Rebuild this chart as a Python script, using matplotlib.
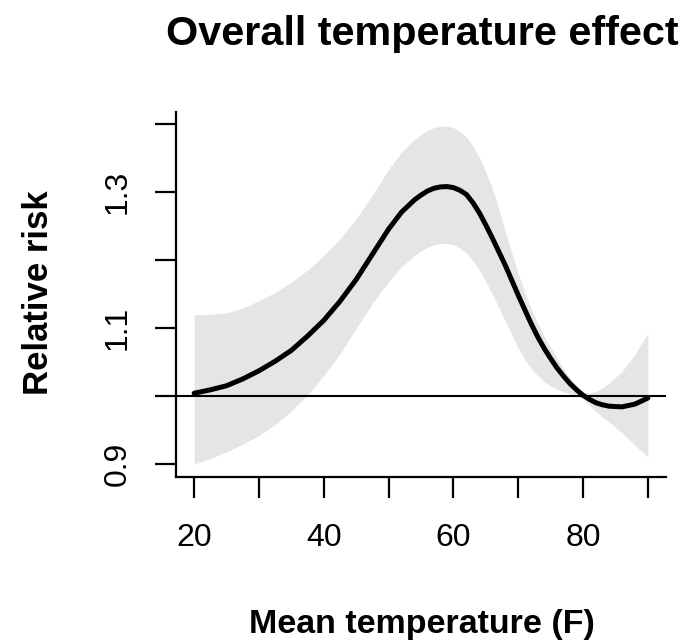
import matplotlib
matplotlib.use("Agg")
import matplotlib.pyplot as plt

plt.rcParams["font.family"] = ["Liberation Sans", "DejaVu Sans"]

# Overall cumulative temperature-mortality association (centred at 80F)
temp = [20, 22.5, 25, 27.5, 30, 32.5, 35, 37.5, 40, 42.5, 45, 47.5, 50,
        52, 54, 55, 56, 57, 58, 59, 60, 61, 62, 63, 64, 65, 66, 67, 68,
        69, 70, 71, 72, 73, 74, 75, 76, 77, 78, 79, 80, 81, 82, 83, 84,
        86, 88, 90]
rr = [1.004, 1.009, 1.015, 1.025, 1.037, 1.051, 1.067, 1.088, 1.111, 1.139,
      1.171, 1.208, 1.245, 1.270, 1.288, 1.295, 1.301, 1.305, 1.307, 1.3075,
      1.306, 1.302, 1.296, 1.284, 1.269, 1.251, 1.232, 1.212, 1.192,
      1.170, 1.148, 1.127, 1.106, 1.087, 1.070, 1.055, 1.041, 1.029, 1.018,
      1.009, 1.001, 0.995, 0.990, 0.987, 0.985, 0.984, 0.988, 0.997]
ci_high = [1.119, 1.120, 1.122, 1.129, 1.140, 1.152, 1.167, 1.185, 1.206,
           1.231, 1.260, 1.295, 1.333, 1.358, 1.377, 1.384, 1.390, 1.394,
           1.396, 1.3965, 1.394, 1.388, 1.380, 1.367, 1.350, 1.329, 1.305,
           1.275, 1.242, 1.210, 1.180, 1.153, 1.128, 1.107, 1.088, 1.071,
           1.055, 1.040, 1.026, 1.015, 1.005, 1.004, 1.007, 1.012, 1.019,
           1.036, 1.061, 1.092]
ci_low = [0.900, 0.908, 0.918, 0.929, 0.942, 0.958, 0.978, 1.002, 1.030,
          1.062, 1.099, 1.136, 1.168, 1.190, 1.206, 1.213, 1.218, 1.222,
          1.224, 1.224, 1.222, 1.217, 1.210, 1.199, 1.185, 1.168, 1.150,
          1.130, 1.110, 1.090, 1.070, 1.054, 1.040, 1.030, 1.021, 1.015,
          1.010, 1.006, 1.003, 1.000, 0.996, 0.986, 0.977, 0.969, 0.962,
          0.946, 0.928, 0.910]

xticks = [20, 30, 40, 50, 60, 70, 80, 90]
xticklabels = ["20", "", "40", "", "60", "", "80", ""]
yticks = [0.9, 1.0, 1.1, 1.2, 1.3, 1.4]
yticklabels = ["0.9", "", "1.1", "", "1.3", ""]

fig = plt.figure(figsize=(6.84, 6.4), dpi=100)
ax = fig.add_axes([176 / 684, 163 / 640, 490 / 684, 365 / 640])

ax.fill_between(temp, ci_low, ci_high, color="#e5e5e5", lw=0)
ax.axhline(1.0, color="black", lw=1.5)
ax.plot(temp, rr, color="black", lw=3.6, solid_capstyle="round",
        solid_joinstyle="round")

ax.set_xlim(17.2, 92.8)
ax.set_ylim(0.881, 1.417)

for side in ("top", "right"):
    ax.spines[side].set_visible(False)
for side in ("left", "bottom"):
    ax.spines[side].set_linewidth(1.6)

ax.set_xticks(xticks)
ax.set_xticklabels(xticklabels, fontsize=23)
ax.set_yticks(yticks)
ax.set_yticklabels(yticklabels, fontsize=23, rotation=90, va="center")
ax.tick_params(axis="both", direction="out", length=15, width=1.6)
ax.tick_params(axis="x", pad=18)
ax.tick_params(axis="y", pad=16)

fig.text(422 / 684, 1 - 45 / 640, "Overall temperature effect",
         ha="center", va="baseline", fontsize=29.8, fontweight="bold")
fig.text(422 / 684, 1 - 633 / 640, "Mean temperature (F)",
         ha="center", va="baseline", fontsize=24.5, fontweight="bold")
fig.text(39 / 684, 1 - 293 / 640, "Relative risk", rotation=90,
         ha="center", va="center", fontsize=25, fontweight="bold")

fig.savefig("out.png", dpi=100)
plt.close(fig)
